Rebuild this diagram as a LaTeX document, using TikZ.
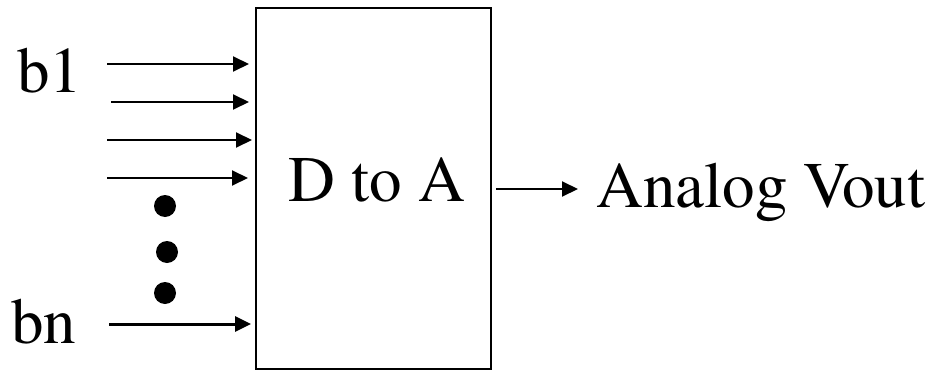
\documentclass[tikz,border=0pt]{standalone}
\usepackage[T1]{fontenc}
\renewcommand{\rmdefault}{ptm}
\usepackage{tikz}
\usetikzlibrary{arrows.meta,positioning,calc}

\begin{document}
\begin{tikzpicture}[
    x=1pt, y=-1pt,
    box/.style={draw, line width=2pt, minimum width=235pt, minimum height=361pt,
                inner sep=0pt},
    lbl/.style={font=\rmfamily\fontsize{65}{72}\selectfont, inner sep=0pt},
    arr/.style={-{Triangle[length=16pt, width=15pt]}, line width=2pt},
    bigarr/.style={arr, line width=3pt}
]
\useasboundingbox (0,0) rectangle (932,372);

\node[box] (dac) at (373.5,188.5) {};
\node[lbl, anchor=base] (dactxt) at (377,201) {D to A};

% inputs
\node[lbl, anchor=base west] (b1) at (17,92) {b1};
\node[lbl, anchor=base west] (bn) at (11,343) {bn};

\coordinate (in1) at (107,64);
\coordinate (in2) at (111,102);
\coordinate (in3) at (107,140);
\coordinate (in4) at (107,178);
\coordinate (inn) at (109,324);

\draw[arr] (in1) -- ([xshift=-6pt]in1 -| dac.west);
\draw[arr] (in2) -- ([xshift=-6pt]in2 -| dac.west);
\draw[arr] (in3) -- ([xshift=-3pt]in3 -| dac.west);
\draw[arr] (in4) -- ([xshift=-7pt]in4 -| dac.west);
\draw[bigarr] (inn) -- ([xshift=-4pt]inn -| dac.west);

\foreach \y/\x in {206/165, 252/167, 293/165}
    \fill (\x,\y) circle (11);

% output
\coordinate (vout) at (578,189);
\draw[arr] ([xshift=4pt]dac.east |- vout) -- (vout);
\node[lbl, anchor=base west] (analog) at (596,207) {Analog Vout};

\end{tikzpicture}
\end{document}
